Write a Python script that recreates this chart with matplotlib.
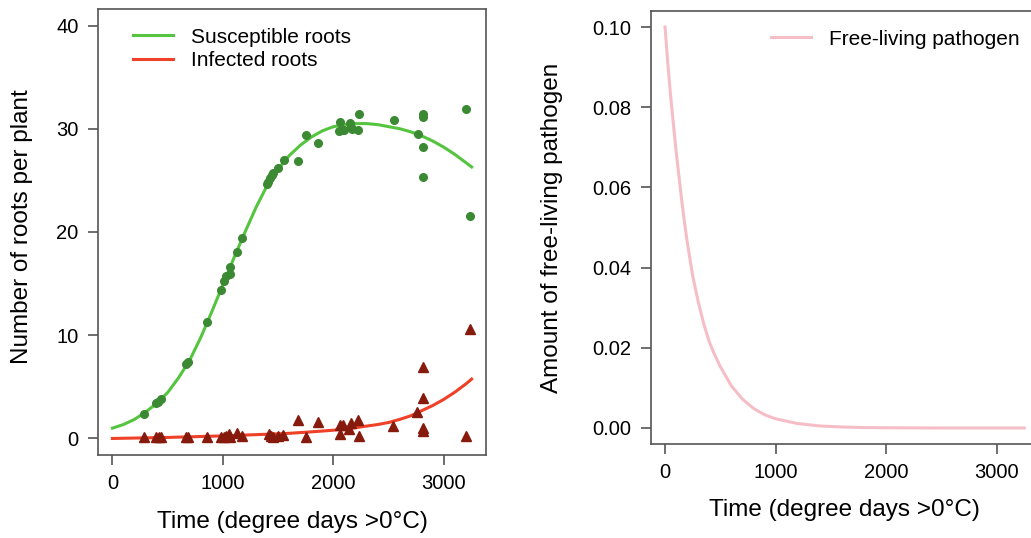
import matplotlib
matplotlib.use("Agg")
import matplotlib.pyplot as plt

plt.rcParams['font.family'] = ['Liberation Sans', 'DejaVu Sans']

# observed susceptible roots (green dots)
sus_t = [286, 397, 409, 443, 668, 680, 855, 982, 1012, 1030, 1060, 1066, 1129, 1174,
         1397, 1412, 1427, 1443, 1457, 1500, 1548, 1677, 1755, 1858, 2056, 2053, 2075,
         2093, 2150, 2156, 2165, 2219, 2234, 2547, 2761, 2809, 2809, 2809, 2809, 3201, 3237]
sus_y = [2.4, 3.4, 3.5, 3.8, 7.2, 7.4, 11.3, 14.4, 15.3, 15.7, 15.9, 16.6, 18.1, 19.45,
         24.6, 24.8, 25.2, 25.5, 25.7, 26.2, 27.0, 26.9, 29.4, 28.6, 30.7, 29.8, 29.9,
         29.9, 30.6, 30.2, 30.0, 29.9, 31.4, 30.8, 29.5, 31.4, 31.1, 28.2, 25.3, 31.9, 21.5]

# observed infected roots (red triangles)
inf_t = [286, 397, 421, 443, 668, 680, 855, 982, 1012, 1030, 1051, 1060, 1129, 1171,
         1418, 1433, 1457, 1497, 1542, 1677, 1755, 1858, 2056, 2083, 2056, 2144, 2156,
         2219, 2234, 2541, 2758, 2809, 2809, 2809, 2809, 3201, 3237]
inf_y = [0.1, 0.1, 0.1, 0.1, 0.1, 0.15, 0.1, 0.1, 0.1, 0.2, 0.45, 0.15, 0.55, 0.2,
         0.45, 0.2, 0.15, 0.2, 0.3, 1.8, 0.1, 1.6, 1.3, 1.35, 0.45, 0.9, 1.45,
         1.8, 0.2, 1.25, 2.55, 6.9, 3.9, 1.0, 0.7, 0.2, 10.6]

# model curves
fit_t = [0, 100, 200, 300, 400, 500, 600, 700, 800, 900, 1000, 1100, 1200, 1300, 1400,
         1500, 1600, 1700, 1800, 1900, 2000, 2100, 2200, 2300, 2400, 2500, 2600, 2700,
         2800, 2900, 3000, 3100, 3200, 3250]
sus_fit = [1.0, 1.35, 1.85, 2.55, 3.4, 4.45, 5.9, 7.6, 9.8, 12.3, 14.9, 17.5, 20.0, 22.4,
           24.5, 26.1, 27.4, 28.4, 29.2, 29.8, 30.2, 30.4, 30.5, 30.5, 30.4, 30.2, 30.0,
           29.7, 29.3, 28.8, 28.2, 27.5, 26.7, 26.3]
inf_fit = [0.0, 0.02, 0.04, 0.06, 0.08, 0.1, 0.13, 0.16, 0.19, 0.22, 0.25, 0.29, 0.33, 0.37,
           0.41, 0.45, 0.5, 0.57, 0.64, 0.72, 0.8, 0.92, 1.04, 1.2, 1.35, 1.55, 1.85,
           2.2, 2.7, 3.2, 3.8, 4.5, 5.3, 5.75]

path_t = [0, 25, 50, 75, 100, 125, 150, 175, 200, 250, 300, 350, 400, 450, 500, 600,
          700, 800, 900, 1000, 1200, 1400, 1600, 1800, 2000, 2500, 3000, 3250]
path_y = [0.100, 0.091, 0.083, 0.076, 0.069, 0.063, 0.057, 0.0515, 0.0465, 0.038, 0.0315,
          0.026, 0.0215, 0.0182, 0.0153, 0.0105, 0.0072, 0.0049, 0.0033, 0.0023, 0.0011,
          0.0005, 0.00025, 0.0001, 0.00005, 0.0, 0.0, 0.0]

xticks = [0, 1000, 2000, 3000]
xlabel = "Time (degree days >0°C)"

fig = plt.figure(figsize=(10.31, 5.38), dpi=100)
ax1 = fig.add_axes([0.0951, 0.1543, 0.3763, 0.8290])
ax2 = fig.add_axes([0.6311, 0.1747, 0.3763, 0.8048])


def r_style(ax, xlab_y, ylab_x, ylab_y, ylabel):
    for s in ax.spines.values():
        s.set_color('#555555')
        s.set_linewidth(1.2)
    ax.tick_params(direction='out', length=7, width=1.2, color='#555555',
                   labelsize=14.5, pad=7)
    ax.set_xticks(xticks)
    ax.set_xlim(-130, 3380)
    ax.set_xlabel(xlabel, fontsize=17.5, va='center')
    ax.xaxis.set_label_coords(0.5, xlab_y)
    ax.set_ylabel(ylabel, fontsize=17.5, va='center')
    ax.yaxis.set_label_coords(ylab_x, ylab_y)


ax1.plot(fit_t, sus_fit, color='#55c43f', lw=2.2, label='Susceptible roots')
ax1.plot(fit_t, inf_fit, color='#ee4128', lw=2.2, label='Infected roots')
ax1.plot(sus_t, sus_y, 'o', color='#3b8a33', ms=5.5, zorder=3)
ax1.plot(inf_t, inf_y, '^', color='#861a0c', ms=6.5, zorder=3)
ax1.set_ylim(-1.6, 41.6)
ax1.set_yticks([0, 10, 20, 30, 40])
r_style(ax1, -0.150, -0.196, 0.513, "Number of roots per plant")
ax1.legend(loc='upper left', frameon=False, fontsize=15, handlelength=1.92,
           handletextpad=0.87, labelspacing=0.21, borderaxespad=0,
           bbox_to_anchor=(0.069, 0.977))

ax2.plot(path_t, path_y, color='#f5bec6', lw=2.2, label='Free-living pathogen')
ax2.set_ylim(-0.004, 0.104)
ax2.set_yticks([0.0, 0.02, 0.04, 0.06, 0.08, 0.10])
ax2.set_yticklabels(['0.00', '0.02', '0.04', '0.06', '0.08', '0.10'])
r_style(ax2, -0.152, -0.254, 0.50, "Amount of free-living pathogen")
ax2.legend(loc='upper left', frameon=False, fontsize=15, handlelength=1.92,
           handletextpad=0.87, borderaxespad=0, bbox_to_anchor=(0.289, 0.976))

fig.savefig("out.png", dpi=100)
